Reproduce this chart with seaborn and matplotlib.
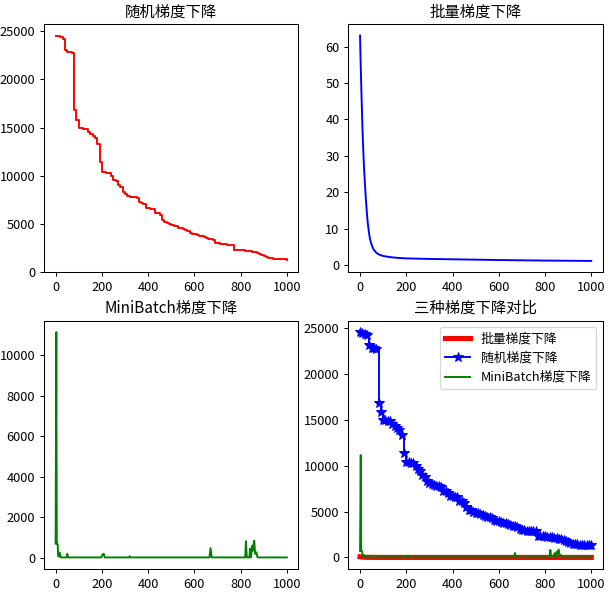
import matplotlib as mpl
mpl.use('Agg')
import matplotlib.pyplot as plt
import seaborn as sns
import pandas as pd

#font setup, CJK first so the titles render
plt.rcParams['font.family'] = ['Noto Sans CJK SC', 'DejaVu Sans']
plt.rcParams['axes.unicode_minus'] = False

#stochastic gradient descent loss, read every 10 iterations off the picture
sgd_x = list(range(0, 1001, 10))
sgd_y = [24550, 24450, 24350, 24200, 23100, 22850, 22800, 22700, 16800, 15800,
         15000, 14950, 14900, 14850, 14500, 14300, 14100, 13900, 13300, 11400,
         10400, 10350, 10300, 10250, 10000, 9600, 9450, 9000, 8800, 8300,
         8100, 7950, 7850, 7800, 7750, 7700, 7250, 7200, 7050, 6700,
         6650, 6600, 6550, 6150, 6100, 5900, 5450, 5200, 5150, 5000,
         4850, 4800, 4750, 4600, 4550, 4450, 4400, 4250, 4050, 4000,
         3950, 3900, 3800, 3750, 3650, 3550, 3450, 3400, 3300, 3050,
         3000, 2950, 2900, 2880, 2870, 2860, 2850, 2350, 2320, 2300,
         2280, 2260, 2240, 2220, 2150, 2100, 2050, 2000, 1900, 1800,
         1650, 1600, 1500, 1450, 1420, 1400, 1380, 1350, 1330, 1320, 1300]

#batch gradient descent loss
bgd_x = [0, 2, 4, 7, 10, 13, 17, 21, 25, 29, 33, 38, 43, 50, 58, 68, 80, 100, 130, 160,
         200, 300, 400, 600, 800, 1000]
bgd_y = [63, 57, 52, 45, 38.5, 33, 27, 22.5, 18.3, 14.8, 11.8, 9.2, 7.2, 5.6, 4.4, 3.6,
         3.0, 2.55, 2.25, 2.05, 1.9, 1.75, 1.65, 1.45, 1.3, 1.2]

#mini batch gradient descent loss
mbgd_x = [0, 3, 5, 7, 9, 11, 13, 18, 22, 30, 48, 50, 55, 100, 198, 202, 208, 212, 318, 320,
          323, 665, 670, 675, 820, 823, 827, 838, 841, 845, 850, 853, 856, 859, 863, 866,
          869, 873, 1000]
mbgd_y = [700, 11150, 700, 700, 650, 100, 60, 250, 20, 20, 20, 200, 20, 20, 20, 150, 200, 20,
          20, 80, 20, 20, 480, 20, 20, 820, 20, 20, 450, 20, 600, 350, 650, 850, 200, 280,
          250, 20, 20]

titles = ['随机梯度下降', '批量梯度下降', 'MiniBatch梯度下降', '三种梯度下降对比']

sgd = pd.DataFrame({'x': sgd_x, 'y': sgd_y})
bgd = pd.DataFrame({'x': bgd_x, 'y': bgd_y})
mbgd = pd.DataFrame({'x': mbgd_x, 'y': mbgd_y})

dpi = 92
fig, axes = plt.subplots(2, 2, figsize=(612 / dpi, 593 / dpi), dpi=dpi)

#the sgd loss only changes at some iterations, so draw it stepwise
sns.lineplot(data=sgd, x='x', y='y', color='red', drawstyle='steps-post', ax=axes[0, 0])
axes[0, 0].set_ylim(bottom=0)
sns.lineplot(data=bgd, x='x', y='y', color='blue', ax=axes[0, 1])
sns.lineplot(data=mbgd, x='x', y='y', color='green', ax=axes[1, 0])

#comparison panel
ax = axes[1, 1]
sns.lineplot(data=bgd, x='x', y='y', color='red', linewidth=4, label='批量梯度下降', ax=ax)
sns.lineplot(data=sgd, x='x', y='y', color='blue', marker='*', markersize=8,
             markeredgecolor='blue', drawstyle='steps-post', label='随机梯度下降', ax=ax)
sns.lineplot(data=mbgd, x='x', y='y', color='green', label='MiniBatch梯度下降', ax=ax)
ax.legend(loc='upper right', fontsize=10)

for a, t in zip(axes.flat, titles):
    a.set_title(t, fontsize=12)
    a.set_xlabel('')
    a.set_ylabel('')
    a.tick_params(labelsize=10)

plt.subplots_adjust(left=0.072, right=0.985, top=0.959, bottom=0.041, wspace=0.197, hspace=0.196)
plt.savefig('out.png', dpi=dpi)
plt.close('all')
